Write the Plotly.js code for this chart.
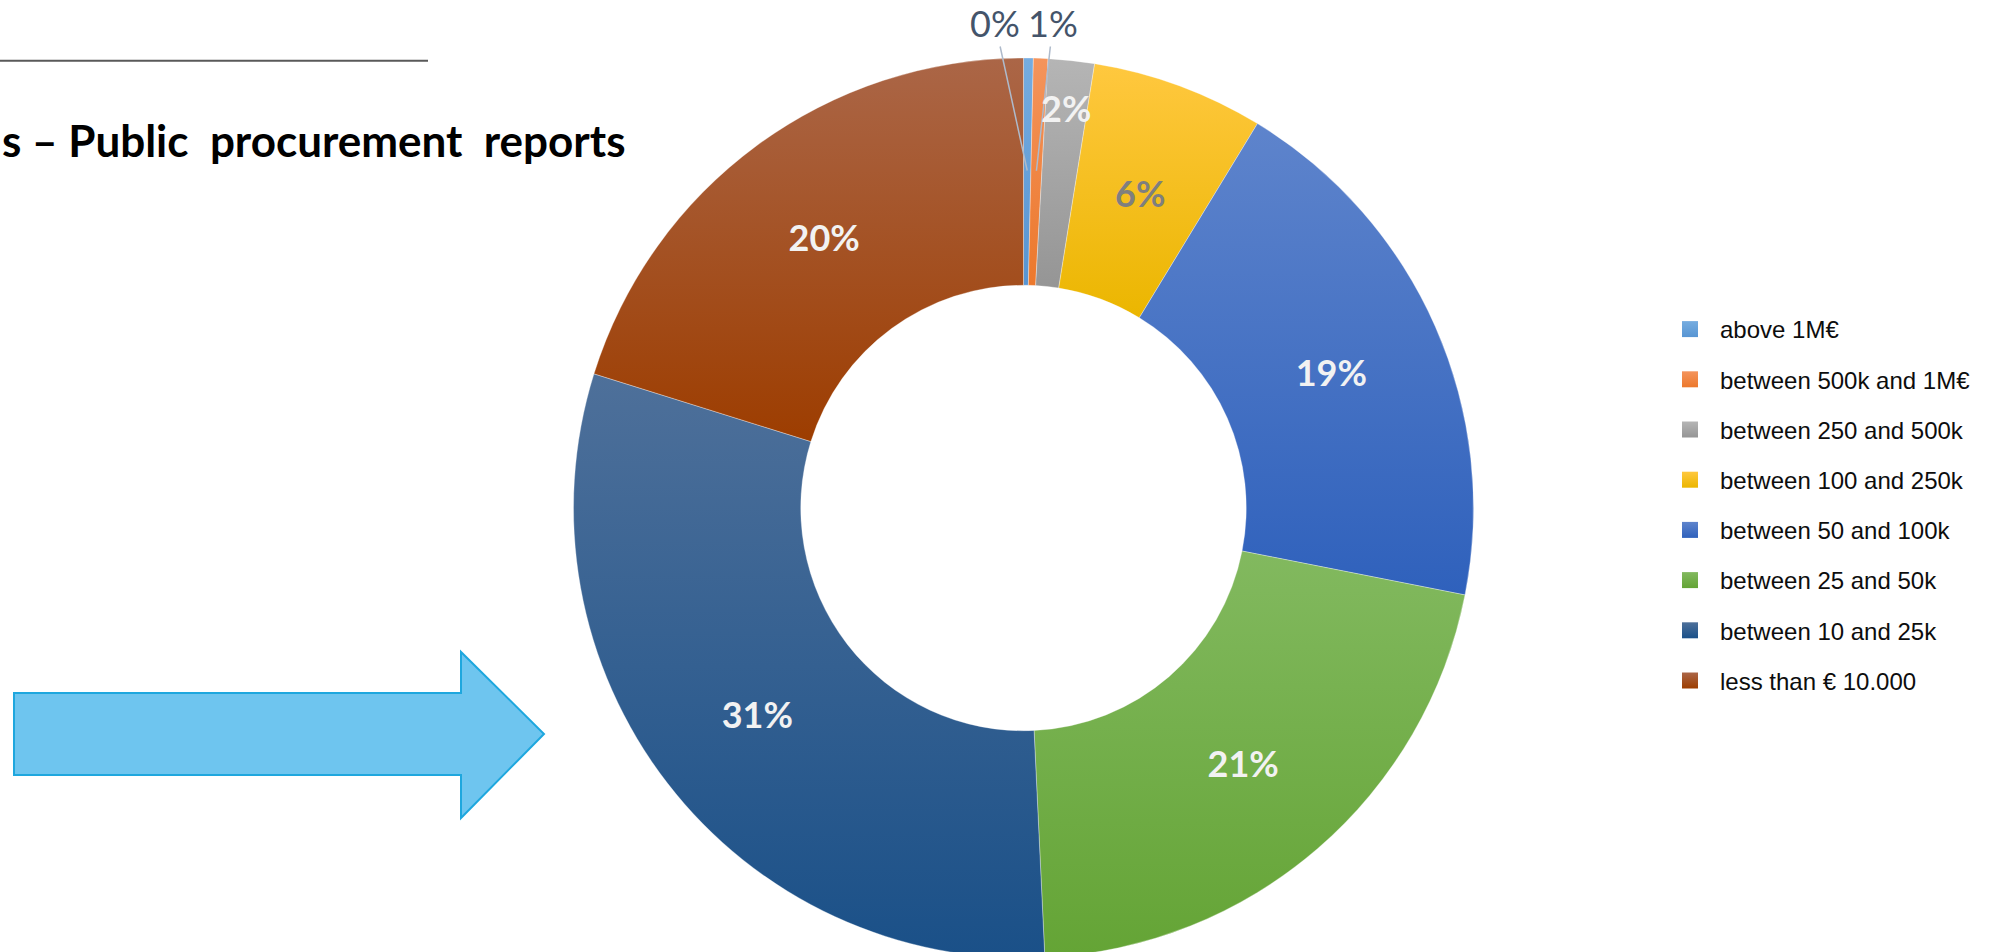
<!DOCTYPE html>
<html><head><meta charset="utf-8">
<script src="https://cdn.plot.ly/plotly-3.0.1.min.js"></script>
<style>html,body{margin:0;padding:0;overflow:hidden;background:#fff}#chart{width:1992px;height:1000px}</style>
</head><body><div id="chart"></div>
<script>
// ---- data ----
const categories = ["above 1M€","between 500k and 1M€","between 250 and 500k","between 100 and 250k","between 50 and 100k","between 25 and 50k","between 10 and 25k","less than € 10.000"];
const shares = [0.35, 0.52, 1.66, 6.18, 19.41, 21.17, 30.6, 20.2];
const baseColors = ["#5B9BD5","#ED7D31","#A5A5A5","#FFC000","#4472C4","#70AD47","#255E91","#9E480E"];
const gradTop    = ["#75ACE0","#F4945C","#B5B5B5","#FFC83F","#5E84CC","#82B95F","#4E709A","#AB6647"];
const gradBottom = ["#5795D3","#EC782C","#959595","#EBB600","#2F61BC","#64A435","#1A5088","#9D3D00"];
const labelColors = ["#44546A","#44546A","#F2F2F2","#7F7F7F","#F2F2F2","#F2F2F2","#F2F2F2","#F2F2F2"];
const titleText = "s \u2013 Public\u00A0 procurement\u00A0 reports";

// ---- layout geometry ----
const W = 1992, H = 1000;
const CX = 1023.5, CY = 508, R = 450;
const px = x => x / W, py = y => 1 - y / H;

const total = shares.reduce((a, b) => a + b, 0);
function sliceMid(i) { let c = 0; for (let k = 0; k < i; k++) c += shares[k]; return 2 * Math.PI * (c + shares[i] / 2) / total; }
function polar(theta, f) { return [CX + f * R * Math.sin(theta), CY - f * R * Math.cos(theta)]; }
const pctText = i => Math.round(100 * shares[i] / total) + '%';
const annotated = [0, 1, 2, 3]; // slices labelled with annotations instead of inside text

const pie = {
  type: 'pie', values: shares, labels: categories, sort: false, direction: 'clockwise', rotation: 0,
  hole: 0.495,
  domain: { x: [px(CX - R), px(CX + R)], y: [py(CY + R), py(CY - R)] },
  marker: { colors: baseColors, line: { color: 'rgba(255,255,255,0.55)', width: 0.6 } },
  texttemplate: shares.map((v, i) => annotated.includes(i) ? '' : '%{percent:.0%}'),
  textposition: shares.map((v, i) => annotated.includes(i) ? 'none' : 'inside'),
  insidetextorientation: 'horizontal',
  insidetextfont: { family: 'Lato, sans-serif', size: 36, weight: 'bold', color: labelColors },
  showlegend: false, hoverinfo: 'skip'
};

const legendTraces = categories.map((c, i) => ({
  type: 'scatter', x: [null], y: [null], mode: 'markers', name: c, legendgroup: 'g' + i,
  marker: { symbol: 'square', size: 16, color: baseColors[i] }, hoverinfo: 'skip'
}));

// small-slice labels
const annotations = [];
[0, 1].forEach(i => {
  const th = sliceMid(i);
  const [ax0, ay0] = polar(th, 0.75);
  const tx = i === 0 ? 995 : 1053, ty = 23;
  annotations.push({
    xref: 'paper', yref: 'paper', x: px(ax0), y: py(ay0), ax: tx - ax0, ay: ty - ay0,
    text: pctText(i), showarrow: true, arrowhead: 0, arrowwidth: 1.5, arrowcolor: '#AEBACB',
    standoff: 0, startstandoff: 0,
    font: { family: 'Lato, sans-serif', size: 36, color: labelColors[i] }
  });
});
[[2, 0.895], [3, 0.747]].forEach(([i, f]) => {
  const [x2, y2] = polar(sliceMid(i), f);
  annotations.push({ xref: 'paper', yref: 'paper', x: px(x2), y: py(y2), xanchor: 'center', yanchor: 'middle',
    text: pctText(i), showarrow: false, font: { family: 'Lato, sans-serif', size: 36, weight: 'bold', color: labelColors[i] } });
});
annotations.push({ xref: 'paper', yref: 'paper', x: px(0), y: py(140), xanchor: 'left', yanchor: 'middle',
  text: titleText, showarrow: false, font: { family: 'Lato, sans-serif', size: 44, weight: 'bold', color: '#000000' } });

const arrowPts = [[14,693],[461,693],[461,652],[544,734],[461,818],[461,775],[14,775]];
const shapes = [
  { type: 'line', xref: 'paper', yref: 'paper', x0: px(0), x1: px(428), y0: py(60.7), y1: py(60.7), line: { color: '#595959', width: 2 } },
  { type: 'path', xref: 'paper', yref: 'paper',
    path: 'M' + arrowPts.map(p => px(p[0]) + ',' + py(p[1])).join('L') + 'Z',
    fillcolor: '#6EC5EF', line: { color: '#1EA7DE', width: 2 } }
];

const layout = {
  width: W, height: H, margin: { l: 0, r: 0, t: 0, b: 0 },
  paper_bgcolor: '#ffffff', plot_bgcolor: 'rgba(0,0,0,0)',
  xaxis: { visible: false }, yaxis: { visible: false },
  showlegend: true,
  legend: { x: px(1660), xanchor: 'left', y: py(307), yanchor: 'top', traceorder: 'grouped', tracegroupgap: 16,
    itemwidth: 50, bgcolor: 'rgba(0,0,0,0)',
    font: { family: 'Liberation Sans, Arial, sans-serif', size: 24, color: '#0d0d0d' } },
  annotations: annotations, shapes: shapes
};

Plotly.newPlot('chart', [pie].concat(legendTraces), layout, { staticPlot: true, displayModeBar: false }).then(gd => {
  const NS = 'http://www.w3.org/2000/svg';
  const defs = gd.querySelector('svg.main-svg defs');
  gradTop.forEach((t, i) => {
    const lg = document.createElementNS(NS, 'linearGradient');
    lg.setAttribute('id', 'sliceGrad' + i);
    lg.setAttribute('x1', '0'); lg.setAttribute('y1', '0'); lg.setAttribute('x2', '0'); lg.setAttribute('y2', '1');
    [[0, t], [1, gradBottom[i]]].forEach(([o, c]) => {
      const s = document.createElementNS(NS, 'stop');
      s.setAttribute('offset', o); s.setAttribute('stop-color', c); lg.appendChild(s);
    });
    defs.appendChild(lg);
  });
  gd.querySelectorAll('g.slice path.surface').forEach((p, i) => { p.style.fill = 'url(#sliceGrad' + i + ')'; });
  gd.querySelectorAll('g.legend g.traces').forEach((g, i) => {
    const p = g.querySelector('path.scatterpts');
    if (p) p.style.fill = 'url(#sliceGrad' + i + ')';
  });
});
</script></body></html>
